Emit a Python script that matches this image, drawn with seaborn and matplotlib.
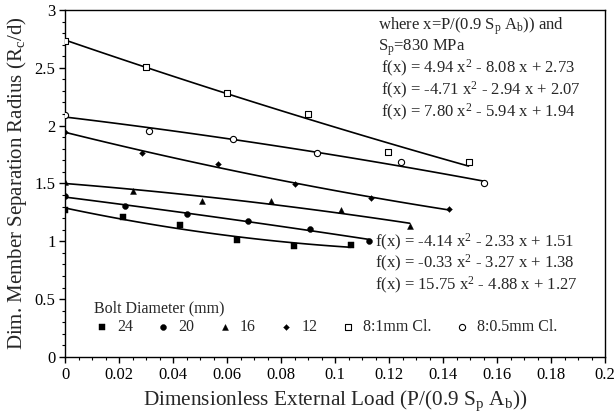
#!/usr/bin/env python3
"""Dimensionless member separation radius vs. external load, with quadratic fits."""
import matplotlib
matplotlib.use("Agg")
import matplotlib.pyplot as plt
import numpy as np
import pandas as pd
import seaborn as sns

# data (x = P/(0.9 Sp Ab), y = Rc/d)
x_24 = [0.0, 0.0213, 0.0425, 0.0635, 0.0846, 0.1057]
y_24 = [1.27, 1.207, 1.141, 1.011, 0.962, 0.968]
x_20 = [0.0, 0.0223, 0.0450, 0.0678, 0.0905, 0.1126]
y_20 = [1.39, 1.305, 1.233, 1.175, 1.109, 1.005]
x_16 = [0.0, 0.0253, 0.0508, 0.0764, 0.1020, 0.1276]
y_16 = [1.515, 1.437, 1.348, 1.348, 1.268, 1.135]
x_12 = [0.0, 0.0285, 0.0567, 0.0852, 0.1133, 0.1420]
y_12 = [1.947, 1.761, 1.668, 1.493, 1.374, 1.276]
x_8_1 = [0.0, 0.0299, 0.0600, 0.0899, 0.1196, 0.1494]
y_8_1 = [2.73, 2.509, 2.284, 2.10, 1.769, 1.685]
x_8_05 = [0.0, 0.0311, 0.0622, 0.0932, 0.1243, 0.1550]
y_8_05 = [2.09, 1.956, 1.881, 1.763, 1.683, 1.501]

series_labels = ["24", "20", "16", "12", "8:1mm Cl.", "8:0.5mm Cl."]

eq_top = [
    r"f(x) = 4.94 x$^{2}$ - 8.08 x + 2.73",
    r"f(x) = -4.71 x$^{2}$ - 2.94 x + 2.07",
    r"f(x) = 7.80 x$^{2}$ - 5.94 x + 1.94",
]
eq_bottom = [
    r"f(x) = -4.14 x$^{2}$ - 2.33 x + 1.51",
    r"f(x) = -0.33 x$^{2}$ - 3.27 x + 1.38",
    r"f(x) = 15.75 x$^{2}$ - 4.88 x + 1.27",
]

sns.set_theme(style="ticks")
plt.rcParams.update({
    "font.family": ["Liberation Serif", "DejaVu Serif"],
    "mathtext.fontset": "custom",
    "mathtext.rm": "Liberation Serif",
    "mathtext.it": "Liberation Serif:italic",
    "mathtext.bf": "Liberation Serif:bold",
    "mathtext.default": "regular",
    "axes.edgecolor": "black",
    "axes.linewidth": 1.0,
    "xtick.color": "black",
    "ytick.color": "black",
})

fig = plt.figure(figsize=(6.15, 4.15), dpi=100)
ax = fig.add_axes([0.106, 0.14, 0.878, 0.836])

styles = [
    dict(marker="s", color="black", edgecolor="black", s=16),
    dict(marker="o", color="black", edgecolor="black", s=18),
    dict(marker="^", color="black", edgecolor="black", s=18),
    dict(marker="D", color="black", edgecolor="black", s=9),
    dict(marker="s", color="white", edgecolor="black", s=18, linewidth=0.8),
    dict(marker="o", color="white", edgecolor="black", s=20, linewidth=0.8),
]
xs = [x_24, x_20, x_16, x_12, x_8_1, x_8_05]
ys = [y_24, y_20, y_16, y_12, y_8_1, y_8_05]

for xv, yv, lab, st in zip(xs, ys, series_labels, styles):
    df = pd.DataFrame({"x": xv, "y": yv})
    # quadratic fit, as in the original
    sns.regplot(data=df, x="x", y="y", order=2, ci=None, scatter=False,
                line_kws=dict(color="black", lw=1.2), ax=ax)
    sns.scatterplot(data=df, x="x", y="y", label=lab, zorder=3, ax=ax, **st)

ax.set_xlim(0, 0.2)
ax.set_ylim(0, 3)
ax.set_xticks(np.arange(0, 0.201, 0.02))
ax.set_xticklabels(["0", "0.02", "0.04", "0.06", "0.08", "0.1", "0.12",
                    "0.14", "0.16", "0.18", "0.2"])
ax.set_yticks(np.arange(0, 3.01, 0.5))
ax.set_yticklabels(["0", "0.5", "1", "1.5", "2", "2.5", "3"])
ax.set_xticks(np.arange(0, 0.2001, 0.005), minor=True)
ax.set_yticks(np.arange(0, 3.001, 0.1), minor=True)
ax.tick_params(which="major", length=4, width=1, labelsize=12, pad=3)
ax.tick_params(which="minor", length=2, width=0.8)

ax.set_xlabel(r"Dimensionless External Load (P/(0.9 S$_{p}$ A$_{b}$))", fontsize=15.3, labelpad=4)
ax.set_ylabel(r"Dim. Member Separation Radius (R$_{c}$/d)", fontsize=15, labelpad=4)

ax.text(0.116, 2.86, r"where x=P/(0.9 S$_{p}$ A$_{b}$)) and", fontsize=12, va="center", ha="left")
ax.text(0.116, 2.67, r"S$_{p}$=830 MPa", fontsize=12, va="center", ha="left")
for i, t in enumerate(eq_top):
    ax.text(0.117, 2.49 - 0.19 * i, t, fontsize=12, va="center", ha="left")
for i, t in enumerate(eq_bottom):
    ax.text(0.1149, 0.994 - 0.19 * i, t, fontsize=12, va="center", ha="left")

leg = ax.legend(title="Bolt Diameter (mm)", ncol=6, frameon=False,
                loc="lower left", bbox_to_anchor=(0.035, 0.035),
                alignment="left", fontsize=11.5, title_fontsize=11.5,
                handletextpad=0.45, columnspacing=1.4, handlelength=1.0,
                labelspacing=0.15, borderaxespad=0.2, markerscale=1.0)

fig.savefig("out.png", dpi=100)
